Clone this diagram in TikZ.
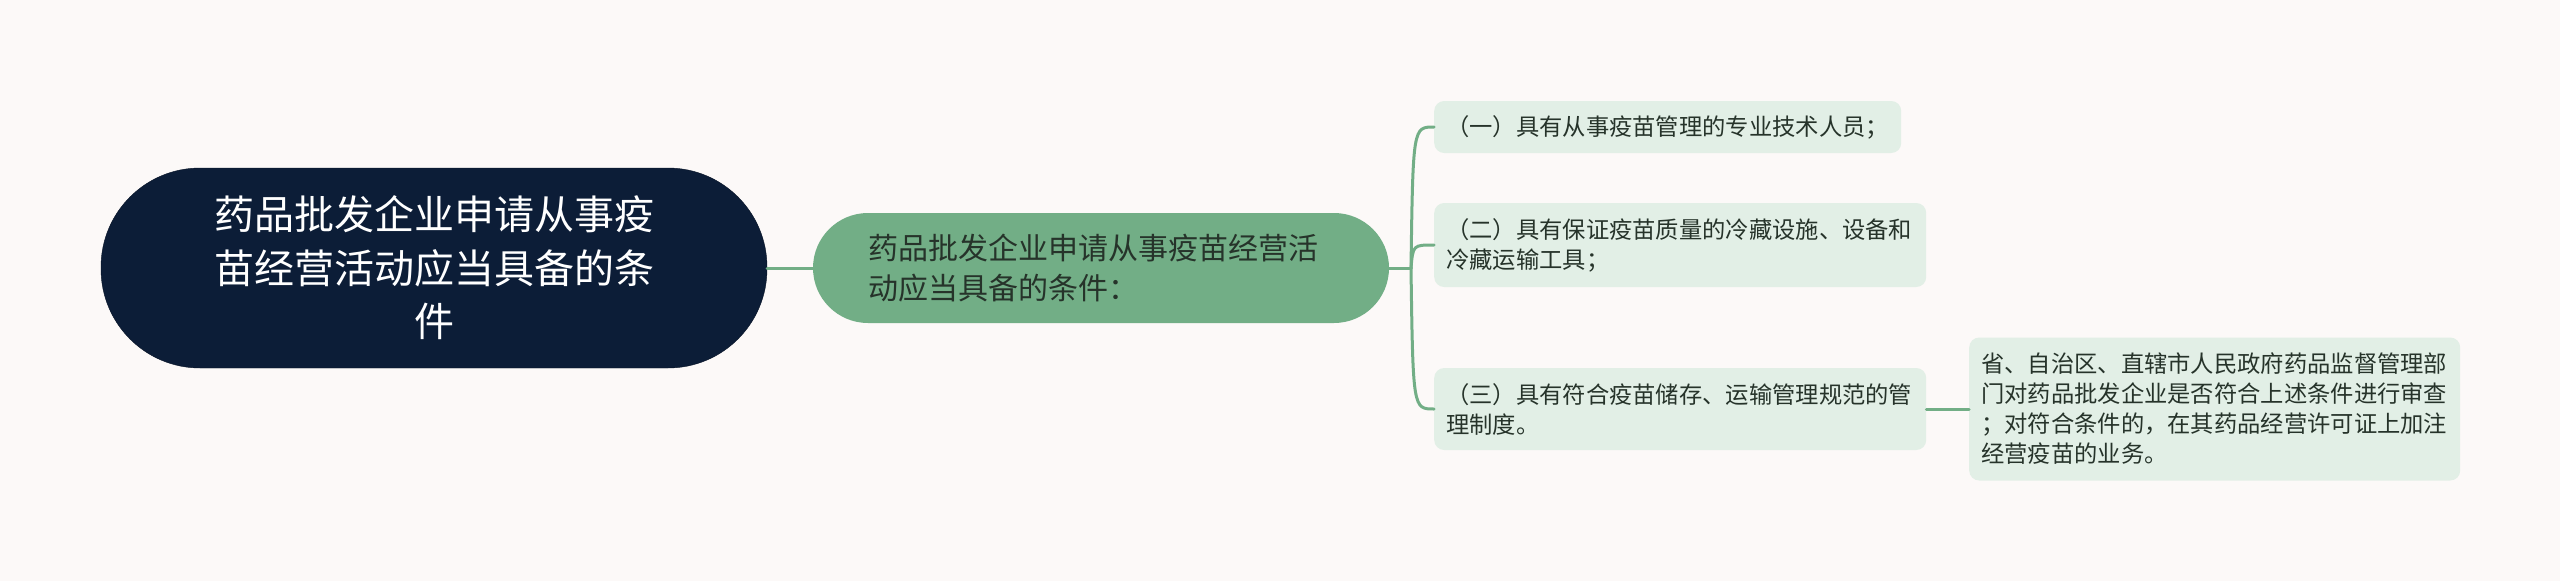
\documentclass[tikz,border=0pt]{standalone}
\usepackage{fontspec}
\setmainfont{Noto Sans CJK SC}
\definecolor{bgc}{HTML}{FCF9F8}
\definecolor{rootc}{HTML}{0C1D37}
\definecolor{mainc}{HTML}{72AE86}
\definecolor{childc}{HTML}{E2EFE6}
\definecolor{linec}{HTML}{72AE86}
\definecolor{txt}{HTML}{26332A}
\begin{document}
\begin{tikzpicture}[x=1pt,y=-1pt,
 conn/.style={draw=linec, line width=3pt, line cap=round},
 rootbox/.style={fill=rootc, draw=rootc!70!black, rounded corners=99pt, minimum width=666pt, minimum height=200pt, text=white, align=center, font=\fontsize{40}{53.5}\selectfont, inner sep=0pt},
 mainbox/.style={fill=mainc, rounded corners=55pt, minimum width=576pt, minimum height=110pt, text width=466pt, align=left, font=\fontsize{30}{40}\selectfont, text=txt, inner sep=0pt},
 childbox/.style={fill=childc, rounded corners=10pt, inner xsep=12pt, inner ysep=0pt, align=left, font=\fontsize{23.3}{30}\selectfont, text=txt, anchor=west}
]
\fill[bgc] (0,0) rectangle (2560,581);
\useasboundingbox (0,0) rectangle (2560,581);

\node[rootbox] (root) at (434,268) {药品批发企业申请从事疫\\苗经营活动应当具备的条\\件};
\node[mainbox] (main) at (1101,268) {药品批发企业申请从事疫苗经营活\\动应当具备的条件：};

\node[childbox, text width=443pt, minimum height=52pt] (c1) at (1434,127) {（一）具有从事疫苗管理的专业技术人员；};
\node[childbox, text width=468pt, minimum height=84pt] (c2) at (1434,245) {（二）具有保证疫苗质量的冷藏设施、设备和\\冷藏运输工具；};
\node[childbox, text width=468pt, minimum height=82pt] (c3) at (1434,409) {（三）具有符合疫苗储存、运输管理规范的管\\理制度。};
\node[childbox, text width=467pt, minimum height=143pt] (gc) at (1969,409) {省、自治区、直辖市人民政府药品监督管理部\\门对药品批发企业是否符合上述条件进行审查\\；对符合条件的，在其药品经营许可证上加注\\经营疫苗的业务。};

\coordinate (j) at (1411,268);
\draw[conn] (root.east) -- (main.west);
\draw[conn] (main.east) -- (j);
\draw[conn] (j) .. controls (1413,127) .. (c1.west);
\draw[conn] (j) .. controls (1413,245) .. (c2.west);
\draw[conn] (j) .. controls (1413,409) .. (c3.west);
\draw[conn] (c3.east) -- (gc.west);
\end{tikzpicture}
\end{document}
